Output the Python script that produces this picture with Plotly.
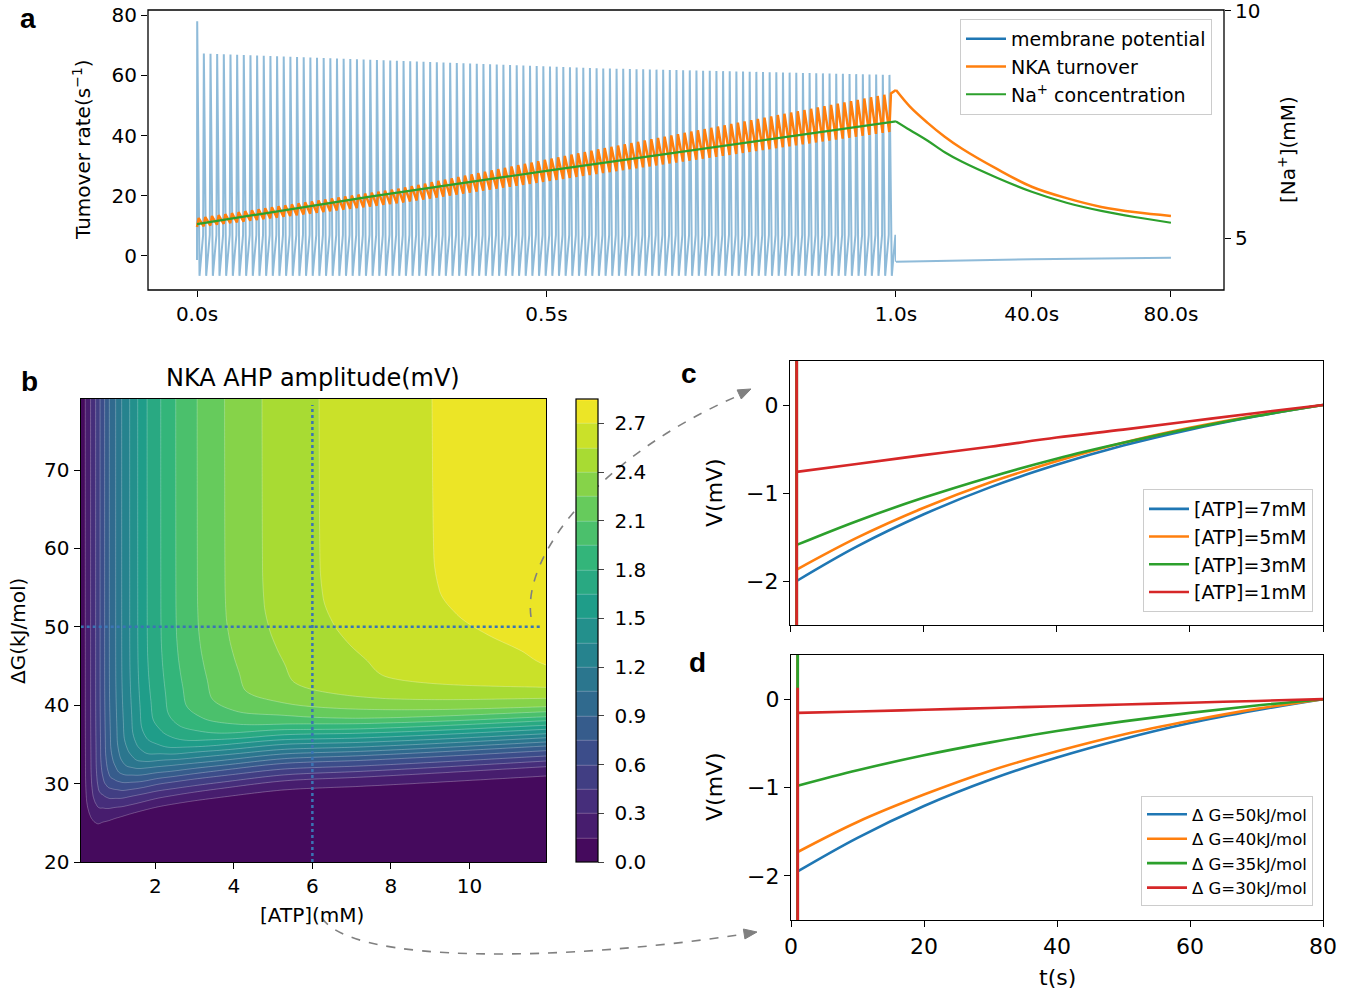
import numpy as np
import plotly.graph_objects as go

W, H = 1362, 994
def fx(p): return p / W
def fy(p): return 1 - p / H

BLUE, ORANGE, GREEN, RED = "#1f77b4", "#ff7f0e", "#2ca02c", "#d62728"
FONT = "DejaVu Sans"

# ===================== Panel a data =====================
spike_rate_hz = 105
spike_count = 105
first_spike_peak = 78.0
spike_peak_t = [0.0, 0.29, 0.58, 1.0]
spike_peak_v = [67.3, 64.8, 62.3, 60.1]
spike_trough = -6.6
spike_recovery = 7.0
v_start = -1.3
v_post_t = [1.0, 20.0, 40.0, 60.0, 80.0]
v_post = [-1.9, -1.45, -1.1, -0.8, -0.55]

nka_env_t = [0.0, 0.29, 0.58, 1.0]
nka_upper = [12.6, 22.5, 35.8, 54.4]
nka_lower = [9.6, 17.6, 27.5, 41.5]
nka_post_t = [1, 5, 10, 15, 20, 30, 40, 50, 60, 70, 80]
nka_post = [55.1, 49.6, 44.3, 39.6, 35.6, 28.9, 23.0, 19.2, 16.3, 14.5, 13.3]

na_t = [0.0, 0.25, 0.5, 0.75, 1.0]
na_v = [5.31, 5.92, 6.48, 7.02, 7.57]
na_post_t = [1, 5, 10, 15, 20, 30, 40, 50, 60, 70, 80]
na_post = [7.57, 7.38, 7.15, 6.89, 6.68, 6.33, 6.02, 5.78, 5.60, 5.46, 5.34]

a_xticks_1 = [0.0, 0.5, 1.0]
a_xlabels_1 = ["0.0s", "0.5s", "1.0s"]
a_xticks_2 = [40.0, 80.0]
a_xlabels_2 = ["40.0s", "80.0s"]

# ===================== Panel b data =====================
# amplitude along the top row (large dG) at each ATP value
atp_top = [0.1, 0.217, 0.352, 0.480, 0.592, 0.709, 0.829, 0.990, 1.143, 1.347,
           1.551, 1.791, 2.138, 2.520, 3.066, 3.765, 4.717, 6.168, 9.046, 11.95]
amp_top = [0.03, 0.15, 0.30, 0.45, 0.60, 0.75, 0.90, 1.05, 1.20, 1.35,
           1.50, 1.65, 1.80, 1.95, 2.10, 2.25, 2.40, 2.55, 2.70, 2.80]
# amplitude along the right column (ATP = 11.95) at each dG value
dg_col = [20.0, 26.0, 29.0, 30.97, 32.16, 32.88, 33.52, 34.20, 34.80, 35.31, 35.85,
          36.36, 36.93, 37.44, 38.02, 38.53, 39.17, 39.81, 40.88, 42.28, 45.13,
          47.2, 49.4, 52.2, 55.5, 60.0, 80.0]
amp_col = [0.01, 0.03, 0.08, 0.15, 0.30, 0.45, 0.60, 0.75, 0.90, 1.05, 1.20,
           1.35, 1.50, 1.65, 1.80, 1.95, 2.10, 2.25, 2.40, 2.55, 2.70,
           2.721, 2.747, 2.774, 2.792, 2.798, 2.80]
# dG offset of the lowest contours vs ATP, and sharpness of the dG transition
shift_atp = [0.1, 0.3, 0.51, 0.68, 1.28, 2.13, 3.83, 5.53, 7.23, 11.95]
shift_dg = [21.0, 21.6, 22.16, 23.18, 24.93, 26.41, 27.97, 29.05, 29.51, 30.97]
shift_w = [0.7, 0.72, 0.75, 0.77, 0.82, 0.9, 0.97, 1.0, 1.0, 1.0]
dg_anchor = 30.97
atp_range = [0.1, 11.95]
dg_range = [20.0, 79.06]
levels_start, levels_end, levels_step = 0.0, 2.85, 0.15
cbar_ticks = [0.0, 0.3, 0.6, 0.9, 1.2, 1.5, 1.8, 2.1, 2.4, 2.7]
atp_marker = 6.0
dg_marker = 50.0

# ===================== Panels c, d data =====================
t_ahp = [1, 10, 20, 30, 40, 50, 60, 70, 80]
c_labels = ["[ATP]=7mM", "[ATP]=5mM", "[ATP]=3mM", "[ATP]=1mM"]
c_values = [
    [-2.00, -1.61, -1.245, -0.936, -0.68, -0.461, -0.28, -0.128, 0.0],
    [-1.87, -1.51, -1.17, -0.88, -0.64, -0.43, -0.26, -0.12, 0.0],
    [-1.59, -1.32, -1.055, -0.82, -0.61, -0.43, -0.268, -0.125, 0.0],
    [-0.76, -0.67, -0.57, -0.475, -0.37, -0.28, -0.185, -0.09, 0.0],
]
c_spike_top = [1.0, 1.0, 1.0, 1.0]
d_labels = ["\u0394 G=50kJ/mol", "\u0394 G=40kJ/mol", "\u0394 G=35kJ/mol", "\u0394 G=30kJ/mol"]
d_values = [
    [-1.95, -1.57, -1.21, -0.91, -0.66, -0.45, -0.27, -0.125, 0.0],
    [-1.73, -1.39, -1.08, -0.81, -0.59, -0.40, -0.245, -0.11, 0.0],
    [-0.98, -0.805, -0.635, -0.489, -0.361, -0.251, -0.155, -0.072, 0.0],
    [-0.155, -0.14, -0.12, -0.10, -0.08, -0.06, -0.04, -0.02, 0.0],
]
d_spike_top = [1.0, 1.0, 1.0, 0.13]
spike_bottom = -3.0
series_colors = [BLUE, ORANGE, GREEN, RED]


def pchip(xk, yk, x):
    """Monotone cubic (Fritsch-Carlson) evaluation of read profile points."""
    xk = np.asarray(xk, float); yk = np.asarray(yk, float)
    x = np.clip(np.asarray(x, float), xk[0], xk[-1])
    h = np.diff(xk); d = np.diff(yk) / h
    m = np.zeros_like(yk)
    m[0], m[-1] = d[0], d[-1]
    for k in range(1, len(xk) - 1):
        if d[k - 1] * d[k] > 0:
            w1 = 2 * h[k] + h[k - 1]; w2 = h[k] + 2 * h[k - 1]
            m[k] = (w1 + w2) / (w1 / d[k - 1] + w2 / d[k])
    idx = np.clip(np.searchsorted(xk, x) - 1, 0, len(xk) - 2)
    t = (x - xk[idx]) / h[idx]
    h00 = 2 * t**3 - 3 * t**2 + 1; h10 = t**3 - 2 * t**2 + t
    h01 = -2 * t**3 + 3 * t**2; h11 = t**3 - t**2
    return h00 * yk[idx] + h10 * h[idx] * m[idx] + h01 * yk[idx + 1] + h11 * h[idx] * m[idx + 1]


# ===================== build panel a series =====================
period = 1.0 / spike_rate_hz
spike_t = np.arange(spike_count) * period
spike_peaks = np.interp(spike_t, spike_peak_t, spike_peak_v)
spike_peaks[0] = first_spike_peak
mp_t, mp_v = [0.0], [v_start]
for t0, pk in zip(spike_t, spike_peaks):
    mp_t += [t0 + 0.03 * period, t0 + 0.38 * period, t0 + 0.92 * period]
    mp_v += [pk, spike_trough, spike_recovery]
mp_t.append(1.0)
mp_v.append(v_post[0])

nka_up = np.interp(spike_t, nka_env_t, nka_upper)
nka_lo = np.interp(spike_t, nka_env_t, nka_lower)
nk_t, nk_v = [], []
for t0, lo, up in zip(spike_t, nka_lo, nka_up):
    nk_t += [t0, t0 + 0.25 * period]
    nk_v += [lo, up]
nk_t.append(1.0)
nk_v.append(nka_post[0])

traces = []
MP_COL = "rgba(31,119,180,0.5)"
traces.append(go.Scatter(x=[None], y=[None], mode="lines", name="membrane potential",
                         line=dict(color=BLUE, width=2.5), xaxis="x", yaxis="y", legend="legend"))
traces.append(go.Scatter(x=mp_t, y=mp_v, mode="lines", line=dict(color=MP_COL, width=2),
                         xaxis="x", yaxis="y", showlegend=False))
traces.append(go.Scatter(x=v_post_t, y=v_post, mode="lines", line=dict(color=MP_COL, width=2),
                         xaxis="x2", yaxis="y", showlegend=False))
traces.append(go.Scatter(x=nk_t, y=nk_v, mode="lines", name="NKA turnover",
                         line=dict(color=ORANGE, width=2.5), xaxis="x", yaxis="y", legend="legend"))
traces.append(go.Scatter(x=nka_post_t, y=nka_post, mode="lines", line=dict(color=ORANGE, width=2.5),
                         xaxis="x2", yaxis="y", showlegend=False, line_shape="spline"))
traces.append(go.Scatter(x=na_t, y=na_v, mode="lines", name="Na<sup>+</sup> concentration",
                         line=dict(color=GREEN, width=2.2), xaxis="x", yaxis="y2", legend="legend"))
traces.append(go.Scatter(x=na_post_t, y=na_post, mode="lines", line=dict(color=GREEN, width=2.2),
                         xaxis="x2", yaxis="y2", showlegend=False, line_shape="spline"))

# ===================== build panel b table =====================
atp_grid = np.concatenate([np.linspace(atp_range[0], 3.0, 240, endpoint=False),
                           np.linspace(3.0, atp_range[1], 130)])
dg_grid = np.linspace(dg_range[0], dg_range[1], 330)
f_top = pchip(atp_top, amp_top, atp_grid)
y0 = pchip(shift_atp, shift_dg, atp_grid)
wd = pchip(shift_atp, shift_w, atp_grid)
Yp = dg_anchor + (dg_grid[:, None] - y0[None, :]) / wd[None, :]
G = pchip(dg_col, amp_col, Yp) / max(amp_col)
Z = np.round(f_top[None, :] * G, 4)

traces.append(go.Contour(
    x=atp_grid, y=dg_grid, z=Z, xaxis="x3", yaxis="y3",
    colorscale="Viridis", zmin=levels_start, zmax=levels_end, autocontour=False,
    contours=dict(start=levels_start, end=levels_end, size=levels_step, coloring="fill"),
    line=dict(color="rgba(255,255,255,0.45)", width=0.6, smoothing=1),
    showscale=True, hoverinfo="skip",
    colorbar=dict(x=fx(576), xanchor="left", xpad=0, ypad=0, thickness=22, thicknessmode="pixels",
                  len=(862 - 399) / H, lenmode="fraction", y=fy(630.5), yanchor="middle",
                  outlinewidth=1.2, outlinecolor="black", ticks="outside", ticklen=6, tickwidth=1.2,
                  tickvals=cbar_ticks, ticktext=[" %.1f" % v for v in cbar_ticks],
                  tickfont=dict(size=20, family=FONT, color="black")),
))
traces.append(go.Scatter(x=[atp_marker, atp_marker], y=[dg_range[0], 78.3], mode="lines",
                         line=dict(color="#3a74b4", width=2.5, dash="dot"),
                         xaxis="x3", yaxis="y3", showlegend=False, hoverinfo="skip"))
traces.append(go.Scatter(x=[atp_range[0], 11.83], y=[dg_marker, dg_marker], mode="lines",
                         line=dict(color="#3a74b4", width=2.5, dash="dot"),
                         xaxis="x3", yaxis="y3", showlegend=False, hoverinfo="skip"))

# ===================== panels c, d =====================
def add_ahp(values, tops, labels, xa, ya, leg):
    for vals, top, lab, col in zip(values, tops, labels, series_colors):
        traces.append(go.Scatter(x=[t_ahp[0]] * 3, y=[top, spike_bottom, vals[0]], mode="lines",
                                 line=dict(color=col, width=2.8), xaxis=xa, yaxis=ya,
                                 showlegend=False, hoverinfo="skip"))
        traces.append(go.Scatter(x=t_ahp, y=vals, mode="lines", name=lab,
                                 line=dict(color=col, width=2.6), xaxis=xa, yaxis=ya,
                                 legend=leg, line_shape="spline"))

add_ahp(c_values, c_spike_top, c_labels, "x4", "y4", "legend2")
add_ahp(d_values, d_spike_top, d_labels, "x5", "y5", "legend3")

fig = go.Figure(data=traces)

tick_common = dict(ticks="outside", ticklen=6, tickwidth=1.3, tickcolor="black", showgrid=False,
                   zeroline=False, automargin=False, ticklabeloverflow="allow")
f20 = dict(size=20, family=FONT, color="black")
f22 = dict(size=22, family=FONT, color="black")
box = dict(showline=True, linecolor="black", linewidth=1.3, mirror=True)

fig.update_layout(
    width=W, height=H, margin=dict(l=0, r=0, t=0, b=0, autoexpand=False),
    paper_bgcolor="white", plot_bgcolor="white",
    font=dict(family=FONT, color="black"),
    xaxis=dict(domain=[fx(148), fx(896)], range=[-0.0701, 1.0001], anchor="y",
               tickvals=a_xticks_1, ticktext=a_xlabels_1, showline=False, tickfont=f20, **tick_common),
    xaxis2=dict(domain=[fx(896), fx(1224)], range=[1.0, 95.25], anchor="y",
                tickvals=a_xticks_2, ticktext=a_xlabels_2, showline=False, tickfont=f20, **tick_common),
    yaxis=dict(domain=[fy(290), fy(10)], range=[-11.3, 81.7], anchor="x",
               tickvals=[0, 20, 40, 60, 80], showline=False, tickfont=f20, **tick_common),
    yaxis2=dict(domain=[fy(290), fy(10)], range=[3.86, 10.02], anchor="x2", overlaying="y",
                side="right", tickvals=[5, 10], showline=False, tickfont=f20, **tick_common),
    xaxis3=dict(domain=[fx(80.7), fx(546)], range=atp_range, anchor="y3",
                tickvals=[2, 4, 6, 8, 10], tickfont=f20, **box, **tick_common),
    yaxis3=dict(domain=[fy(862), fy(399)], range=dg_range, anchor="x3",
                tickvals=[20, 30, 40, 50, 60, 70], tickfont=f20, **box, **tick_common),
    xaxis4=dict(domain=[fx(790), fx(1323)], range=[0, 80], anchor="y4",
                tickvals=[0, 20, 40, 60, 80], showticklabels=False, **box, **tick_common),
    yaxis4=dict(domain=[fy(625), fy(361)], range=[-2.5, 0.5], anchor="x4",
                tickvals=[-2, -1, 0], ticktext=["\u22122", "\u22121", "0"], tickfont=f22,
                **box, **tick_common),
    xaxis5=dict(domain=[fx(791), fx(1323)], range=[0, 80], anchor="y5",
                tickvals=[0, 20, 40, 60, 80], tickfont=f22, **box, **tick_common),
    yaxis5=dict(domain=[fy(920), fy(655)], range=[-2.5, 0.5], anchor="x5",
                tickvals=[-2, -1, 0], ticktext=["\u22122", "\u22121", "0"], tickfont=f22,
                **box, **tick_common),
    legend=dict(x=fx(1212), xanchor="right", y=fy(19), yanchor="top",
                font=dict(size=19, family=FONT, color="black"), bordercolor="#cccccc",
                borderwidth=1, bgcolor="rgba(255,255,255,0.85)", itemwidth=40),
    legend2=dict(x=fx(1313), xanchor="right", y=fy(489), yanchor="top",
                 font=dict(size=19, family=FONT, color="black"), bordercolor="#cccccc",
                 borderwidth=1, bgcolor="rgba(255,255,255,0.85)", itemwidth=40),
    legend3=dict(x=fx(1313), xanchor="right", y=fy(796), yanchor="top",
                 font=dict(size=16.5, family=FONT, color="black"), bordercolor="#cccccc",
                 borderwidth=1, bgcolor="rgba(255,255,255,0.85)", itemwidth=40),
)

def pth(points):
    (x0, y0_), (x1, y1), (x2, y2), (x3, y3) = points
    return "M %f,%f C %f,%f %f,%f %f,%f" % (fx(x0), fy(y0_), fx(x1), fy(y1), fx(x2), fy(y2), fx(x3), fy(y3))

def head(tip, tail, length=13, half=5):
    tx, ty = tip; bx, by = tail
    dx, dy = tx - bx, ty - by
    n = (dx * dx + dy * dy) ** 0.5
    dx, dy = dx / n, dy / n
    cx, cy = tx - length * dx, ty - length * dy
    p1 = (cx - half * dy, cy + half * dx); p2 = (cx + half * dy, cy - half * dx)
    return "M %f,%f L %f,%f L %f,%f Z" % (fx(tx), fy(ty), fx(p1[0]), fy(p1[1]), fx(p2[0]), fy(p2[1]))

GRAY = "#808080"
shapes = [
    dict(type="rect", xref="paper", yref="paper", x0=fx(148), x1=fx(1224), y0=fy(290), y1=fy(10),
         line=dict(color="black", width=1.3)),
    dict(type="path", xref="paper", yref="paper",
         path=pth([(531, 617), (522, 555), (600, 455), (740, 395)]),
         line=dict(color=GRAY, width=1.6, dash="dash")),
    dict(type="path", xref="paper", yref="paper", path=head((751, 389), (738, 395)),
         fillcolor=GRAY, line=dict(color=GRAY, width=1)),
    dict(type="path", xref="paper", yref="paper",
         path=pth([(322, 918), (352, 964), (560, 962), (745, 934)]),
         line=dict(color=GRAY, width=1.6, dash="dash")),
    dict(type="path", xref="paper", yref="paper", path=head((757, 932), (744, 934)),
         fillcolor=GRAY, line=dict(color=GRAY, width=1)),
]
fig.update_layout(shapes=shapes)

def ann(text, x, y, size=20, angle=0, bold=False, family=FONT):
    return dict(text=("<b>%s</b>" % text) if bold else text, x=fx(x), y=fy(y), xref="paper", yref="paper",
                showarrow=False, textangle=angle, xanchor="center", yanchor="middle",
                font=dict(size=size, family=family, color="black"))

annotations = [
    ann("a", 28, 19, 28, bold=True, family="Liberation Sans"),
    ann("b", 29, 381, 28, bold=True, family="Liberation Sans"),
    ann("c", 689, 373, 28, bold=True, family="Liberation Sans"),
    ann("d", 697, 662, 28, bold=True, family="Liberation Sans"),
    ann("Tumover rate(s<sup>\u22121</sup>)", 82, 150, 20, angle=-90),
    ann("[Na<sup>+</sup>](mM)", 1287, 150, 20, angle=-90),
    ann("NKA AHP amplitude(mV)", 313, 378, 24),
    ann("\u0394G(kJ/mol)", 18, 631, 20, angle=-90),
    ann("[ATP](mM)", 312, 915, 20),
    ann("V(mV)", 714, 493, 22, angle=-90),
    ann("V(mV)", 714, 787, 22, angle=-90),
    ann("t(s)", 1057, 977, 22),
]
fig.update_layout(annotations=annotations)

fig.write_html("out.html")
